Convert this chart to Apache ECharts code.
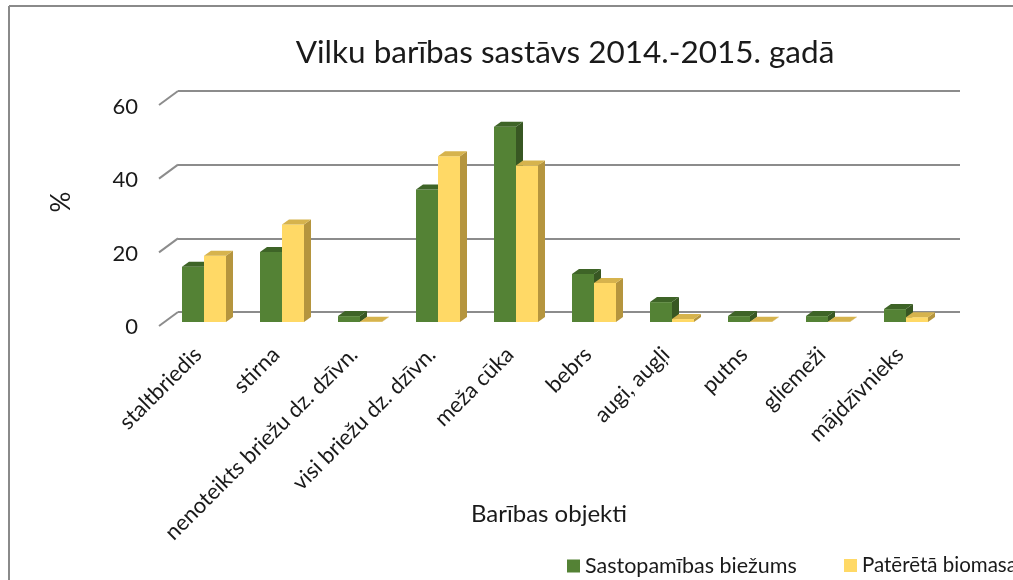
<!DOCTYPE html>
<html>
<head>
<meta charset="utf-8">
<script src="https://cdn.jsdelivr.net/npm/echarts@6/dist/echarts.min.js"></script>
<style>
  html, body { margin: 0; padding: 0; background: #fff; }
  #main { width: 1013px; height: 580px; }
</style>
</head>
<body>
<div id="main"></div>
<script>
// dati no attēla
const categories = ['staltbriedis', 'stirna', 'nenoteikts briežu dz. dzīvn.', 'visi briežu dz. dzīvn.',
  'meža cūka', 'bebrs', 'augi, augļi', 'putns', 'gliemeži', 'mājdzīvnieks'];
const biezums = [15, 19, 1.6, 36, 53, 13, 5.4, 1.6, 1.6, 3.5];
const biomasa = [18, 26.5, 0.1, 45, 42.5, 10.6, 0.8, 0.1, 0.1, 1.3];
const yTicks = [0, 20, 40, 60];

const FONT = 'Lato';
const TXT = '#1a1a1a';
const green = { front: '#548235', top: '#3e6427', side: '#385723' };
const yellow = { front: '#ffd966', top: '#d6b34d', side: '#b5953e' };

let chart = echarts.init(document.getElementById('main'), null, { renderer: 'canvas' });

// 3D stabiņš: priekša, augša, sāns
function bar3d(colors, shift) {
  return function (params, api) {
    const i = api.value(0);
    const v = api.value(1);
    const p0 = api.coord([i, 0]);
    const p1 = api.coord([i, v]);
    const w = 22, dx = 7, dy = -5;
    const x0 = p0[0] + shift * w;
    const x1 = x0 + w;
    const yb = p0[1], yt = p1[1];
    return {
      type: 'group',
      children: [
        { type: 'rect', shape: { x: x0, y: yt, width: w, height: yb - yt }, style: { fill: colors.front } },
        { type: 'polygon', shape: { points: [[x1, yt], [x1 + dx, yt + dy], [x1 + dx, yb + dy], [x1, yb]] }, style: { fill: colors.side } },
        { type: 'polygon', shape: { points: [[x0, yt], [x0 + dx, yt + dy], [x1 + dx, yt + dy], [x1, yt]] }, style: { fill: colors.top } }
      ]
    };
  };
}

let option = {
  animation: false,
  title: {
    text: 'Vilku barības sastāvs 2014.-2015. gadā',
    left: 560, top: 32, textAlign: 'center',
    textStyle: { fontFamily: FONT, fontSize: 31.5, fontWeight: 'normal', color: TXT }
  },
  graphic: [
    { type: 'line', shape: { x1: 9, y1: 6, x2: 1013, y2: 6 }, style: { stroke: '#8a8a8a', lineWidth: 2 } },
    { type: 'line', shape: { x1: 9, y1: 6, x2: 9, y2: 580 }, style: { stroke: '#8a8a8a', lineWidth: 2 } },
    {
      type: 'text', x: 62, y: 202, rotation: Math.PI / 2,
      style: { text: '%', fontFamily: FONT, fontSize: 26, fill: TXT, align: 'center', verticalAlign: 'middle' }
    },
    {
      type: 'text', x: 549, y: 514,
      style: { text: 'Barības objekti', fontFamily: FONT, fontSize: 24, fill: TXT, align: 'center', verticalAlign: 'middle' }
    }
  ],
  legend: [
    {
      data: ['Sastopamības biežums'], left: 562, top: 550,
      icon: 'rect', itemWidth: 13, itemHeight: 13,
      textStyle: { fontFamily: FONT, fontSize: 21.5, color: TXT }
    },
    {
      data: ['Patērētā biomasa'], left: 839, top: 550,
      icon: 'rect', itemWidth: 13, itemHeight: 13,
      textStyle: { fontFamily: FONT, fontSize: 20.5, color: TXT }
    }
  ],
  grid: [
    { left: 178, right: 53, top: 91, bottom: 268 },   // aizmugurējā siena
    { left: 165, width: 780, top: 101, height: 221 }, // stabiņi
    { left: 158, width: 20, top: 107, bottom: 253 },  // y ass uzraksti
    { left: 159, width: 780, top: 101, height: 221 }  // x ass uzraksti
  ],
  xAxis: [
    { gridIndex: 0, type: 'category', data: categories, show: false },
    { gridIndex: 1, type: 'category', data: categories, show: false },
    { gridIndex: 2, type: 'category', data: ['a'], show: false },
    {
      gridIndex: 3, type: 'category', data: categories,
      axisLine: { show: false }, axisTick: { show: false },
      axisLabel: { rotate: 45, margin: 29, interval: 0, fontFamily: FONT, fontSize: 22, color: TXT }
    }
  ],
  yAxis: [
    {
      gridIndex: 0, type: 'value', min: 0, max: 60, interval: 20,
      axisLine: { show: false }, axisTick: { show: false }, axisLabel: { show: false },
      splitLine: { lineStyle: { color: '#8c8c8c', width: 2 } }
    },
    { gridIndex: 1, type: 'value', min: 0, max: 60, interval: 20, show: false },
    {
      gridIndex: 2, type: 'value', min: 0, max: 60, interval: 20,
      axisLine: { show: false }, axisTick: { show: false }, splitLine: { show: false },
      axisLabel: { margin: 20, fontFamily: FONT, fontSize: 22, color: TXT }
    },
    { gridIndex: 3, type: 'value', min: 0, max: 60, interval: 20, show: false }
  ],
  series: [
    {
      // kreisās malas slīpās līnijas
      type: 'custom', xAxisIndex: 0, yAxisIndex: 0, silent: true,
      data: yTicks.map(function (t) { return [0, t]; }),
      renderItem: function (params, api) {
        const y = api.coord([0, api.value(1)])[1];
        const x = params.coordSys.x;
        return { type: 'line', shape: { x1: x, y1: y, x2: x - 19, y2: y + 14 }, style: { stroke: '#8c8c8c', lineWidth: 2 } };
      }
    },
    {
      name: 'Sastopamības biežums', type: 'custom', xAxisIndex: 1, yAxisIndex: 1,
      itemStyle: { color: green.front },
      data: biezums.map(function (v, i) { return [i, v]; }),
      renderItem: bar3d(green, -1)
    },
    {
      name: 'Patērētā biomasa', type: 'custom', xAxisIndex: 1, yAxisIndex: 1,
      itemStyle: { color: yellow.front },
      data: biomasa.map(function (v, i) { return [i, v]; }),
      renderItem: bar3d(yellow, 0)
    }
  ]
};
chart.setOption(option);
</script>
</body>
</html>
